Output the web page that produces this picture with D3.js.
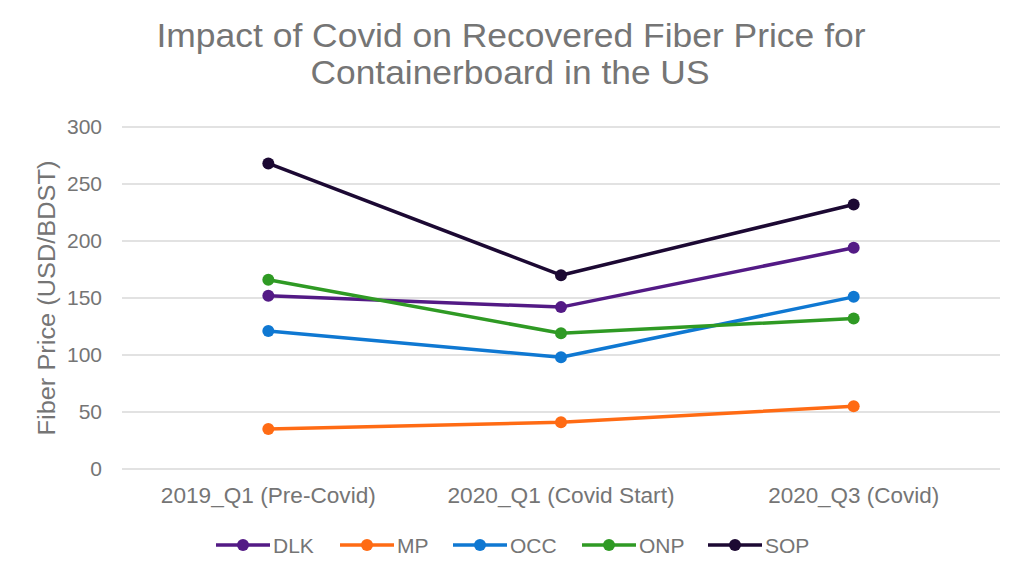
<!DOCTYPE html>
<html><head><meta charset="utf-8">
<script src="https://cdn.jsdelivr.net/npm/d3@7"></script>
<style>body{margin:0;background:#fff}svg{display:block}</style>
</head><body>
<svg id="c" width="1024" height="577"></svg>
<script>
const categories = ["2019_Q1 (Pre-Covid)", "2020_Q1 (Covid Start)", "2020_Q3 (Covid)"];
const seriesNames = ["DLK", "MP", "OCC", "ONP", "SOP"];
const DLK = [152, 142, 194];
const MP  = [35, 41, 55];
const OCC = [121, 98, 151];
const ONP = [166, 119, 132];
const SOP = [268, 170, 232];
const yTicks = [0, 50, 100, 150, 200, 250, 300];
const colors = {DLK:"#531a85", MP:"#ff6b14", OCC:"#0f78d2", ONP:"#2f9a24", SOP:"#1c0933"};
const values = {DLK, MP, OCC, ONP, SOP};

const svg = d3.select("#c");
const font = "'Liberation Sans', Arial, sans-serif";
const gray = "#757575";

const x = d3.scaleBand().domain(categories).range([122, 1000]);
const y = d3.scaleLinear().domain([0, 300]).range([469, 127]);

// title
svg.append("text").attr("x", 511).attr("y", 47).attr("text-anchor","middle")
  .attr("font-family", font).attr("font-size", 33).attr("fill", gray)
  .attr("textLength", 709).attr("lengthAdjust","spacingAndGlyphs")
  .text("Impact of Covid on Recovered Fiber Price for");
svg.append("text").attr("x", 510).attr("y", 84).attr("text-anchor","middle")
  .attr("font-family", font).attr("font-size", 33).attr("fill", gray)
  .attr("textLength", 399).attr("lengthAdjust","spacingAndGlyphs")
  .text("Containerboard in the US");

// gridlines
svg.append("g").selectAll("line").data(yTicks).join("line")
  .attr("x1", 122).attr("x2", 1000)
  .attr("y1", d => y(d)).attr("y2", d => y(d))
  .attr("stroke", "#d9d9d9").attr("stroke-width", 1.3);

// y axis
const ya = svg.append("g").attr("transform", "translate(108,0)")
  .call(d3.axisLeft(y).tickValues(yTicks).tickSize(0).tickPadding(6));
ya.select(".domain").remove();
ya.selectAll("text").attr("font-family", font).attr("font-size", 21).attr("fill", gray);

// x axis
const xa = svg.append("g").attr("transform", "translate(0,503)")
  .call(d3.axisBottom(x).tickSize(0).tickPadding(0));
xa.select(".domain").remove();
const xw = [215, 227, 171];
xa.selectAll("text").attr("font-family", font).attr("font-size", 21.5).attr("fill", gray)
  .attr("dy", 0).attr("y", 0)
  .attr("textLength", (d,i) => xw[i]).attr("lengthAdjust","spacingAndGlyphs");

// y title
svg.append("text").attr("transform", "translate(55,298) rotate(-90)").attr("text-anchor","middle")
  .attr("font-family", font).attr("font-size", 23.5).attr("fill", gray)
  .attr("textLength", 275).attr("lengthAdjust","spacingAndGlyphs")
  .text("Fiber Price (USD/BDST)");

const cx = d => x(d) + x.bandwidth()/2;
const line = d3.line().x((v,i) => cx(categories[i])).y(v => y(v));

seriesNames.forEach(name => {
  const g = svg.append("g");
  g.append("path").datum(values[name]).attr("d", line).attr("fill","none")
    .attr("stroke", colors[name]).attr("stroke-width", 3.5).attr("stroke-linejoin","round");
  g.selectAll("circle").data(values[name]).join("circle")
    .attr("cx", (v,i) => cx(categories[i])).attr("cy", v => y(v)).attr("r", 6)
    .attr("fill", colors[name]);
});

// legend
const legX = [216, 340, 453, 582, 708];
const lg = svg.append("g");
seriesNames.forEach((name, i) => {
  const g = lg.append("g").attr("transform", `translate(${legX[i]},545)`);
  g.append("line").attr("x1",0).attr("x2",54).attr("stroke",colors[name]).attr("stroke-width",3.5);
  g.append("circle").attr("cx",27).attr("r",6).attr("fill",colors[name]);
  g.append("text").attr("x",57).attr("y",0).attr("dy","0.36em")
    .attr("font-family", font).attr("font-size",21).attr("fill",gray).text(name);
});
</script>
</body></html>
